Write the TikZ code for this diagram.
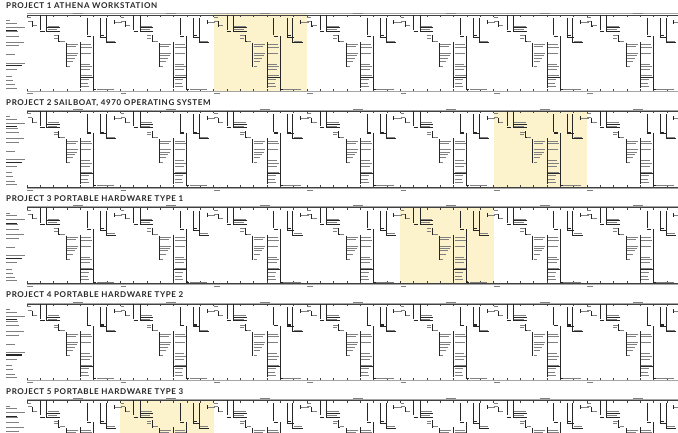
\documentclass[tikz,border=0pt]{standalone}
\usepackage{fontspec}
\setmainfont{Lato}
\newfontfamily\ttlfont[LetterSpace=8]{Lato}
\usepackage{tikz}
\definecolor{hlyellow}{RGB}{252,243,205}
\definecolor{rulegrey}{RGB}{165,165,165}
\tikzset{
  lead/.style={line width=0.4pt, black!85},
  txt/.style={line width=0.9pt, black!50},
  txtb/.style={line width=1.2pt, black!85},
  rul/.style={line width=1.1pt, rulegrey},
  tck/.style={line width=0.35pt, black!75},
  hl/.style={fill=hlyellow, draw=none},
  ttl/.style={font=\ttlfont\bfseries\fontsize{8}{9}\selectfont,
              inner sep=0pt, anchor=base west, text=black!85},
}
% one repeated schedule block, u to the right, v downwards from the top ruler
\newcommand{\projunit}{%
  \draw[txt] (0.3,2.6) -- (4,2.6);
  \draw[txt] (0.5,6.5) -- (4.5,6.5);
  \draw[lead] (4.7,6.5) -- (4.7,11) -- (5.3,11);
  \draw[txt] (5.5,11) -- (9.7,11);
  \draw[lead] (13.3,0) -- (13.3,15);
  \draw[txtb] (13.3,16.7) -- (17.5,16.7);
  \draw[lead] (19.5,0) -- (19.5,16.5) -- (33,16.5);
  \draw[lead] (19.5,12.8) -- (33,12.8);
  \draw[txt] (20.5,11.4) -- (32,11.4);
  \draw[txt] (20.5,15.1) -- (30,15.1);
  \draw[txt] (26.5,21) -- (31,21);
  \draw[txt] (26.5,23.4) -- (30.5,23.4);
  \draw[lead] (31.5,20) -- (31.5,26.5) -- (33,26.5);
  \draw[txt] (33,26.5) -- (37.5,26.5);
  % block a
  \draw[lead] (39,28) -- (39,52);
  \foreach \v/\w in {30/11,32/9,38.5/11,40.8/10,43.2/8,46.5/6,51.5/3}
    \draw[txt] (40,\v) -- ++(\w,0);
  % block b
  \draw[lead] (53.3,27) -- (53.3,73);
  \foreach \v/\w in {30/10,32.5/11,38.5/10,49.5/9,52/11,55/9,61/11,64.5/8,68.5/7,71.5/8}
    \draw[txt] (54.3,\v) -- ++(\w,0);
  \draw[lead] (53.3,62) -- (67,62);
  % milestones
  \draw[lead] (60,3) -- (60,20.5);
  \draw[txtb] (60,21.8) -- (64,21.8);
  \draw[lead] (66.3,21.5) -- (66.3,74.5) -- (69,74.5);
  \draw[txt] (69.5,74.5) -- (87,74.5);
  \draw[lead] (73.3,3) -- (73.3,22.3) -- (80,22.3);
  \draw[txtb] (73.8,21) -- (77,21);
  \draw[lead] (79,3) -- (79,27.5) -- (89,27.5);
  \draw[txt] (80,26.3) -- (88,26.3);
  \draw[lead] (86.7,5) -- (86.7,9);
  \draw[txt] (87.5,7.5) -- (95,7.5);
  % ruler marks
  \draw[txt] (46,-1.8) -- (56,-1.8);
  \draw[txt] (0.3,78.8) -- (6,78.8);
}
% row labels on the left
\newcommand{\projlabels}{%
  \foreach \v/\w in {5.7/4,8.3/11,12.3/19,17/11.5,21.7/12.5,27.3/18,31/13.3,
                     40/9,48.3/19,55/11.3,61.7/5.7,65.7/7.3,70/9,73.3/11.3}
    \draw[txt] (6,\v) -- ++(\w,0);
  \foreach \v/\w in {15.7/11,51/15.7}
    \draw[txtb] (6,\v) -- ++(\w,0);
}

\begin{document}
\begin{tikzpicture}[x=1pt, y=-1pt]
\useasboundingbox (0,0) rectangle (678,433);
\fill[white] (0,0) rectangle (678,433);
\clip (0,0) rectangle (678,433);
\foreach \r/\name/\hk in {0/{PROJECT 1 ATHENA WORKSTATION}/2,
                          1/{PROJECT 2 SAILBOAT, 4970 OPERATING SYSTEM}/5,
                          2/{PROJECT 3 PORTABLE HARDWARE TYPE 1}/4,
                          3/{PROJECT 4 PORTABLE HARDWARE TYPE 2}/-1,
                          4/{PROJECT 5 PORTABLE HARDWARE TYPE 3}/1} {
  \pgfmathsetmacro{\ry}{14.8+96.4*\r}
  \ifnum\hk>-1
    \fill[hl] ({27+93.3*\hk},\ry-1) rectangle ++(93.3,77);
  \fi
  \node[ttl] (title\r) at (6,\ry-6.1) {\name};
  % rulers
  \draw[rul] (27,\ry-0.9) -- (678,\ry-0.9);
  \draw[tck] (27,\ry) -- (678,\ry);
  \draw[tck] (27,\ry+76) -- (678,\ry+76);
  \draw[line width=0.6pt, rulegrey] (27,\ry+76.7) -- (678,\ry+76.7);
  \foreach \t in {0,...,49} {
    \draw[tck] ({27+13.33*\t},\ry) -- ++(0,2.2);
    \draw[tck] ({27+13.33*\t},\ry+76) -- ++(0,-2.2);
  }
  \begin{scope}[shift={(0,\ry)}]
    \projlabels
  \end{scope}
  \foreach \k in {0,...,6} {
    \begin{scope}[shift={({27+93.3*\k},\ry)}]
      \projunit
    \end{scope}
  }
}
\end{tikzpicture}
\end{document}
